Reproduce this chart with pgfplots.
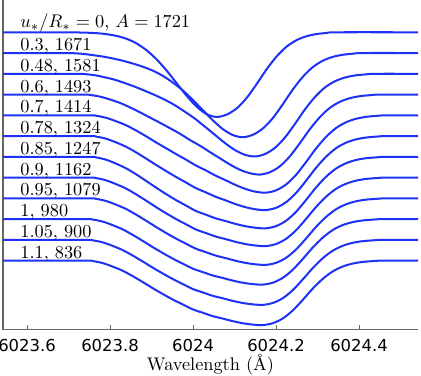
\documentclass[border=0pt]{standalone}
\usepackage{fontspec}
\usepackage{pgfplots}
\usepackage{pgfplotstable}
\pgfplotsset{compat=1.18}
\newfontfamily\tickfont{DejaVu Sans}
\definecolor{lineblue}{RGB}{30,50,245}
\pgfplotsset{prof/.style={lineblue, line width=1.1pt, no markers, smooth, tension=0.5}}

% x = wavelength - 6024 (Angstrom), y = normalised flux with offsets of 0.05
\pgfplotstableread{
x y
-0.4580 1.0000
-0.3760 1.0000
-0.3519 1.0000
-0.3278 1.0000
-0.3037 0.9998
-0.2796 0.9996
-0.2555 0.9990
-0.2315 0.9978
-0.2074 0.9953
-0.1833 0.9910
-0.1592 0.9839
-0.1351 0.9725
-0.1110 0.9559
-0.0869 0.9337
-0.0628 0.9066
-0.0387 0.8762
-0.0146 0.8460
0.0095 0.8201
0.0336 0.8023
0.0577 0.7960
0.0818 0.8021
0.1059 0.8174
0.1300 0.8429
0.1541 0.8766
0.1782 0.9123
0.2023 0.9429
0.2264 0.9663
0.2505 0.9816
0.2746 0.9908
0.2987 0.9959
0.3228 0.9984
0.3469 1.0000
0.5420 1.0000
}\curveA

\pgfplotstableread{
x y
-0.4580 0.9500
-0.3134 0.9500
-0.2893 0.9496
-0.2652 0.9480
-0.2411 0.9449
-0.2170 0.9415
-0.1929 0.9368
-0.1689 0.9313
-0.1448 0.9246
-0.1207 0.9169
-0.0966 0.9074
-0.0725 0.8948
-0.0484 0.8786
-0.0243 0.8596
-0.0002 0.8366
0.0239 0.8121
0.0480 0.7876
0.0721 0.7665
0.0962 0.7523
0.1203 0.7472
0.1444 0.7533
0.1685 0.7685
0.1926 0.7938
0.2167 0.8273
0.2408 0.8628
0.2649 0.8932
0.2890 0.9165
0.3131 0.9317
0.3372 0.9409
0.3613 0.9459
0.3854 0.9484
0.4095 0.9500
0.5420 0.9500
}\curveB

\pgfplotstableread{
x y
-0.4580 0.9000
-0.2845 0.9000
-0.2604 0.8992
-0.2363 0.8964
-0.2122 0.8914
-0.1881 0.8855
-0.1640 0.8775
-0.1400 0.8687
-0.1159 0.8590
-0.0918 0.8486
-0.0677 0.8373
-0.0436 0.8241
-0.0195 0.8084
0.0046 0.7918
0.0287 0.7725
0.0528 0.7528
0.0769 0.7331
0.1010 0.7163
0.1251 0.7048
0.1492 0.7008
0.1733 0.7068
0.1974 0.7217
0.2215 0.7466
0.2456 0.7795
0.2697 0.8143
0.2938 0.8442
0.3179 0.8671
0.3420 0.8821
0.3661 0.8910
0.3902 0.8960
0.4143 0.8984
0.4384 0.9000
0.5420 0.9000
}\curveC

\pgfplotstableread{
x y
-0.4580 0.8500
-0.2724 0.8500
-0.2483 0.8490
-0.2242 0.8450
-0.2001 0.8381
-0.1760 0.8298
-0.1519 0.8190
-0.1279 0.8072
-0.1038 0.7945
-0.0797 0.7820
-0.0556 0.7689
-0.0315 0.7556
-0.0074 0.7404
0.0167 0.7267
0.0408 0.7113
0.0649 0.6964
0.0890 0.6814
0.1131 0.6687
0.1372 0.6604
0.1613 0.6573
0.1854 0.6631
0.2095 0.6775
0.2336 0.7016
0.2577 0.7334
0.2818 0.7671
0.3059 0.7960
0.3300 0.8182
0.3541 0.8327
0.3782 0.8413
0.4023 0.8461
0.4264 0.8485
0.4505 0.8500
0.5420 0.8500
}\curveD

\pgfplotstableread{
x c4 c5 c6 c7 c8
-0.4580 0.8000 0.7500 0.7000 0.6500 0.6000
-0.2580 0.8000 0.7500 0.7000 0.6500 0.6000
-0.2339 0.7989 0.7488 0.6986 0.6487 0.5987
-0.2098 0.7940 0.7436 0.6931 0.6434 0.5936
-0.1857 0.7858 0.7348 0.6836 0.6343 0.5848
-0.1616 0.7761 0.7243 0.6724 0.6236 0.5744
-0.1375 0.7635 0.7109 0.6580 0.6097 0.5609
-0.1135 0.7497 0.6960 0.6423 0.5947 0.5463
-0.0894 0.7349 0.6807 0.6260 0.5790 0.5311
-0.0653 0.7208 0.6659 0.6105 0.5642 0.5167
-0.0412 0.7068 0.6516 0.5958 0.5502 0.5031
-0.0171 0.6932 0.6381 0.5826 0.5375 0.4907
0.0070 0.6790 0.6245 0.5695 0.5249 0.4786
0.0311 0.6671 0.6142 0.5605 0.5163 0.4702
0.0552 0.6542 0.6035 0.5516 0.5078 0.4619
0.0793 0.6432 0.5948 0.5450 0.5015 0.4558
0.1034 0.6317 0.5857 0.5381 0.4949 0.4494
0.1275 0.6222 0.5784 0.5326 0.4896 0.4443
0.1516 0.6158 0.5734 0.5290 0.4862 0.4409
0.1757 0.6136 0.5718 0.5278 0.4850 0.4398
0.1998 0.6192 0.5771 0.5330 0.4899 0.4446
0.2239 0.6332 0.5905 0.5459 0.5023 0.4566
0.2480 0.6565 0.6128 0.5674 0.5229 0.4766
0.2721 0.6872 0.6422 0.5958 0.5502 0.5031
0.2962 0.7198 0.6734 0.6260 0.5790 0.5311
0.3203 0.7478 0.7001 0.6518 0.6038 0.5551
0.3444 0.7692 0.7206 0.6716 0.6228 0.5736
0.3685 0.7832 0.7340 0.6845 0.6351 0.5856
0.3926 0.7916 0.7420 0.6923 0.6426 0.5928
0.4167 0.7963 0.7464 0.6966 0.6467 0.5968
0.4408 0.7985 0.7486 0.6986 0.6487 0.5987
0.4649 0.8000 0.7500 0.7000 0.6500 0.6000
0.5420 0.8000 0.7500 0.7000 0.6500 0.6000
}\curvesE

\pgfplotstableread{
x c9 c10 c11
-0.4580 0.5500 0.5000 0.4500
-0.2652 0.5500 0.5000 0.4500
-0.2411 0.5487 0.4987 0.4488
-0.2170 0.5437 0.4937 0.4438
-0.1929 0.5350 0.4851 0.4352
-0.1688 0.5248 0.4749 0.4252
-0.1447 0.5115 0.4618 0.4121
-0.1207 0.4971 0.4475 0.3980
-0.0966 0.4821 0.4327 0.3832
-0.0725 0.4679 0.4186 0.3692
-0.0484 0.4545 0.4053 0.3560
-0.0243 0.4424 0.3932 0.3441
-0.0002 0.4304 0.3813 0.3323
0.0239 0.4222 0.3732 0.3242
0.0480 0.4140 0.3650 0.3161
0.0721 0.4080 0.3591 0.3102
0.0962 0.4017 0.3528 0.3040
0.1203 0.3966 0.3478 0.2990
0.1444 0.3933 0.3445 0.2958
0.1685 0.3922 0.3434 0.2947
0.1926 0.3969 0.3481 0.2994
0.2167 0.4088 0.3598 0.3110
0.2408 0.4285 0.3794 0.3304
0.2649 0.4545 0.4053 0.3560
0.2890 0.4821 0.4327 0.3832
0.3131 0.5058 0.4562 0.4065
0.3372 0.5240 0.4742 0.4244
0.3613 0.5358 0.4859 0.4360
0.3854 0.5429 0.4930 0.4430
0.4095 0.5468 0.4969 0.4469
0.4336 0.5487 0.4987 0.4488
0.4577 0.5500 0.5000 0.4500
0.5420 0.5500 0.5000 0.4500
}\curvesF

\begin{document}
\begin{tikzpicture}
\begin{axis}[
  scale only axis,
  width=226.8pt, height=180.3pt,
  xmin=-0.458, xmax=0.542,
  ymin=0.283, ymax=1.0778,
  axis lines=left,
  axis line style={-, black!60, line width=0.6pt},
  xtick={-0.4,-0.2,0,0.2,0.4},
  xticklabels={6023.6,6023.8,6024,6024.2,6024.4},
  ytick=\empty,
  tick align=inside,
  major tick length=2.7pt,
  tick style={black!60, line width=0.5pt},
  xticklabel style={font=\tickfont\fontsize{9}{10}\selectfont, anchor=base, yshift=-12pt},
  every axis x label/.style={at={(axis description cs:0.5,0)}, anchor=base, yshift=-22.4pt},
  xlabel={Wavelength (\AA)},
  clip=false,
]
\addplot[prof] table[x=x, y=y] {\curveA};
\addplot[prof] table[x=x, y=y] {\curveB};
\addplot[prof] table[x=x, y=y] {\curveC};
\addplot[prof] table[x=x, y=y] {\curveD};
\addplot[prof] table[x=x, y=c4] {\curvesE};
\addplot[prof] table[x=x, y=c5] {\curvesE};
\addplot[prof] table[x=x, y=c6] {\curvesE};
\addplot[prof] table[x=x, y=c7] {\curvesE};
\addplot[prof] table[x=x, y=c8] {\curvesE};
\addplot[prof] table[x=x, y=c9] {\curvesF};
\addplot[prof] table[x=x, y=c10] {\curvesF};
\addplot[prof] table[x=x, y=c11] {\curvesF};

\begin{scope}[every node/.style={anchor=base west, inner sep=0pt, yshift=1.3pt}]
\node[yshift=1.4pt] at (axis cs:-0.417,1.00) {$u_*/R_* = 0$, $A = 1721$};
\node at (axis cs:-0.417,0.95) {0.3, 1671};
\node at (axis cs:-0.417,0.90) {0.48, 1581};
\node at (axis cs:-0.417,0.85) {0.6, 1493};
\node at (axis cs:-0.417,0.80) {0.7, 1414};
\node at (axis cs:-0.417,0.75) {0.78, 1324};
\node at (axis cs:-0.417,0.70) {0.85, 1247};
\node at (axis cs:-0.417,0.65) {0.9, 1162};
\node at (axis cs:-0.417,0.60) {0.95, 1079};
\node at (axis cs:-0.417,0.55) {1, 980};
\node at (axis cs:-0.417,0.50) {1.05, 900};
\node at (axis cs:-0.417,0.45) {1.1, 836};
\end{scope}
\end{axis}
\pgfresetboundingbox
\path ([xshift=-1.64pt,yshift=-25.1pt]current axis.south west) rectangle ([xshift=1.64pt]current axis.north east);
\end{tikzpicture}
\end{document}
